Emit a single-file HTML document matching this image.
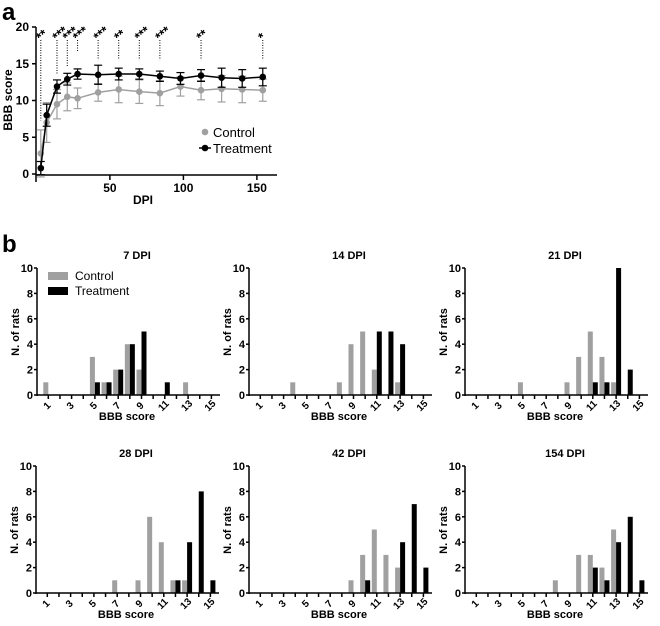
<!DOCTYPE html>
<html><head><meta charset="utf-8"><style>
html,body{margin:0;padding:0;background:#fff;}
svg{display:block;font-family:"Liberation Sans",Arial,sans-serif;}
</style></head><body>
<svg id="fig" width="660" height="626" viewBox="0 0 660 626" xmlns="http://www.w3.org/2000/svg">
<text x="2" y="20" font-size="24" font-weight="bold">a</text>
<text x="2" y="252" font-size="24" font-weight="bold">b</text>
</svg>
<script>
// ---- Panel a data ----
const days = [3,7,14,21,28,42,56,70,84,98,112,126,140,154];
const ctrlMean = [2.8,7.0,9.5,10.5,10.3,11.1,11.5,11.2,11.0,11.9,11.4,11.6,11.5,11.4];
const ctrlErr  = [3.2,2.7,2.0,1.9,1.4,1.2,1.8,1.6,1.7,1.3,1.3,1.8,1.8,1.5];
const trtMean  = [0.8,8.0,11.9,12.9,13.6,13.5,13.6,13.6,13.3,13.0,13.4,13.1,13.0,13.2];
const trtErr   = [0.9,1.5,0.9,0.8,0.7,1.3,0.8,0.7,0.7,0.8,0.8,1.3,1.2,1.2];
const sigDays  = [3,14,21,28,42,56,70,84,112,154];
const sigStars = ["**","***","***","***","***","**","***","***","**","*"];
const sigLow   = [7.3,13.5,14.6,16.6,15.5,15.5,15.5,15.5,15.5,15.5];
const yTicksA  = [0,5,10,15,20];
const xTicksA  = [50,100,150];

// ---- Panel b data ----
const scores = [1,2,3,4,5,6,7,8,9,10,11,12,13,14,15];
const scoreLabels = [1,3,5,7,9,11,13,15];
const histTitles = ["7 DPI","14 DPI","21 DPI","28 DPI","42 DPI","154 DPI"];
const ctrl7   = [1,0,0,0,3,1,2,4,2,0,0,0,1,0,0];
const trt7    = [0,0,0,0,1,1,2,4,5,0,1,0,0,0,0];
const ctrl14  = [0,0,0,1,0,0,0,1,4,5,2,0,1,0,0];
const trt14   = [0,0,0,0,0,0,0,0,0,0,5,5,4,0,0];
const ctrl21  = [0,0,0,0,1,0,0,0,1,3,5,3,1,0,0];
const trt21   = [0,0,0,0,0,0,0,0,0,0,1,1,10,2,0];
const ctrl28  = [0,0,0,0,0,0,1,0,1,6,4,1,1,0,0];
const trt28   = [0,0,0,0,0,0,0,0,0,0,0,1,4,8,1];
const ctrl42  = [0,0,0,0,0,0,0,0,1,3,5,3,2,0,0];
const trt42   = [0,0,0,0,0,0,0,0,0,1,0,0,4,7,2];
const ctrl154 = [0,0,0,0,0,0,0,1,0,3,3,2,5,0,0];
const trt154  = [0,0,0,0,0,0,0,0,0,0,2,1,4,6,1];
const yTicksB = [0,2,4,6,8,10];

const NS="http://www.w3.org/2000/svg";
const svg=document.getElementById('fig');
function mk(tag,attrs,parent,text){const e=document.createElementNS(NS,tag);for(const k in attrs)e.setAttribute(k,attrs[k]);if(text!==undefined)e.textContent=text;(parent||svg).appendChild(e);return e;}

// ===== Panel a =====
const ax=d=>36.4+d*1.47;
const ay=v=>174-v*7.35;
const ga=mk('g',{});


let e;
e=mk('line',{x1:36,y1:27,x2:36,y2:182,stroke:'#000','stroke-width':1.5},ga);
 
e=mk('line',{x1:36,y1:175,x2:277,y2:175,stroke:'#000','stroke-width':1.5},ga);
 
yTicksA.forEach(v=>{
  mk('line',{x1:32,y1:ay(v),x2:36,y2:ay(v),stroke:'#000','stroke-width':1.5},ga);
  e=mk('text',{x:29,y:ay(v)+4,'font-size':12,'font-weight':'bold','text-anchor':'end'},ga,String(v));
   
});
xTicksA.forEach(v=>{
  mk('line',{x1:ax(v),y1:175,x2:ax(v),y2:180,stroke:'#000','stroke-width':1.5},ga);
  e=mk('text',{x:ax(v),y:192,'font-size':12,'font-weight':'bold','text-anchor':'middle'},ga,String(v));
   
});
e=mk('text',{x:143,y:204,'font-size':12,'font-weight':'bold','text-anchor':'middle'},ga,'DPI');
 
e=mk('text',{x:0,y:0,'font-size':12,'font-weight':'bold','text-anchor':'middle',transform:'translate(12,100) rotate(-90)'},ga,'BBB score');
 

// significance markers
sigDays.forEach((d,i)=>{
  e=mk('line',{x1:ax(d),y1:40,x2:ax(d),y2:ay(sigLow[i]),stroke:'#000','stroke-width':1,'stroke-dasharray':'1,1.5'},ga);
   
  e=mk('text',{x:0,y:0,'font-size':13,'font-weight':'bold',transform:`translate(${ax(d)},${42}) rotate(-40)`},ga,sigStars[i]);
   
});

function series(mean,err,color,name){
  const g=mk('g',{},ga);
   
  days.forEach((d,i)=>{
    const x=ax(d);
    mk('line',{x1:x,y1:ay(mean[i]-err[i]),x2:x,y2:ay(mean[i]+err[i]),stroke:color,'stroke-width':1.2},g);
    mk('line',{x1:x-4,y1:ay(mean[i]+err[i]),x2:x+4,y2:ay(mean[i]+err[i]),stroke:color,'stroke-width':1.2},g);
    mk('line',{x1:x-4,y1:ay(mean[i]-err[i]),x2:x+4,y2:ay(mean[i]-err[i]),stroke:color,'stroke-width':1.2},g);
  });
  const pts=days.map((d,i)=>ax(d)+','+ay(mean[i])).join(' ');
  e=mk('polyline',{points:pts,fill:'none',stroke:color,'stroke-width':1.5},g);
   
  days.forEach((d,i)=>{
    e=mk('circle',{cx:ax(d),cy:ay(mean[i]),r:3.3,fill:color},g);
     
  });
}
series(ctrlMean,ctrlErr,'#a0a0a0','control');
series(trtMean,trtErr,'#000','treatment');

// legend a
const la=mk('g',{},ga);
 
e=mk('circle',{cx:205,cy:132,r:3.3,fill:'#a0a0a0'},la);
 
e=mk('text',{x:213,y:137,'font-size':13},la,'Control');
 
e=mk('circle',{cx:205,cy:148,r:3.3,fill:'#000'},la);
 
e=mk('line',{x1:199,y1:148,x2:211,y2:148,stroke:'#000','stroke-width':1.5},la);
e=mk('text',{x:213,y:153,'font-size':13},la,'Treatment');
 

// ===== Panel b =====
const ctrlSets=[ctrl7,ctrl14,ctrl21,ctrl28,ctrl42,ctrl154];
const trtSets=[trt7,trt14,trt21,trt28,trt42,trt154];
const lefts=[37,249,465,36,249,465];
const tops=[268,268,268,466,466,466];
const unitW=11.65, unitH=12.7;
histTitles.forEach((title,p)=>{
  const L=lefts[p], T=tops[p], B=T+10*unitH;
  const bx=s=>L+11.3+(s-1)*unitW;
  const by=v=>B-v*unitH;
  const g=mk('g',{});
  
  
  e=mk('text',{x:L+100,y:T-9,'font-size':11,'font-weight':'bold','text-anchor':'middle'},g,title);
   
  scores.forEach((s,i)=>{
    if(ctrlSets[p][i]>0){
      e=mk('rect',{x:bx(s)-5,y:by(ctrlSets[p][i]),width:5,height:ctrlSets[p][i]*unitH,fill:'#a0a0a0'},g);
       
    }
    if(trtSets[p][i]>0){
      e=mk('rect',{x:bx(s),y:by(trtSets[p][i]),width:5,height:trtSets[p][i]*unitH,fill:'#000'},g);
       
    }
  });
  e=mk('line',{x1:L,y1:T,x2:L,y2:B+1,stroke:'#000','stroke-width':1.5},g);
   
  e=mk('line',{x1:L,y1:B,x2:L+183,y2:B,stroke:'#000','stroke-width':1.5},g);
   
  yTicksB.forEach(v=>{
    mk('line',{x1:L-3,y1:by(v),x2:L,y2:by(v),stroke:'#000','stroke-width':1.5},g);
    e=mk('text',{x:L-4,y:by(v)+4,'font-size':11,'font-weight':'bold','text-anchor':'end'},g,String(v));
     
  });
  scores.forEach(s=>{
    mk('line',{x1:bx(s),y1:B,x2:bx(s),y2:B+4,stroke:'#000','stroke-width':1.5},g);
  });
  scoreLabels.forEach(s=>{
    e=mk('text',{x:0,y:0,'font-size':10,'font-weight':'bold','text-anchor':'middle',transform:`translate(${bx(s)+1},${B+13}) rotate(-45)`},g,String(s));
     
  });
  e=mk('text',{x:L+90,y:B+25,'font-size':11,'font-weight':'bold','text-anchor':'middle'},g,'BBB score');
   
  e=mk('text',{x:0,y:0,'font-size':11,'font-weight':'bold','text-anchor':'middle',transform:`translate(${L-18},${T+64}) rotate(-90)`},g,'N. of rats');
   
  if(p===0){
    const lg=mk('g',{},g);
     
    e=mk('rect',{x:48,y:272,width:20,height:8,fill:'#a0a0a0'},lg);
     
    e=mk('text',{x:75,y:280,'font-size':12},lg,'Control');
     
    e=mk('rect',{x:48,y:287,width:20,height:8,fill:'#000'},lg);
     
    e=mk('text',{x:75,y:295,'font-size':12},lg,'Treatment');
     
  }
});
</script>
</body></html>
